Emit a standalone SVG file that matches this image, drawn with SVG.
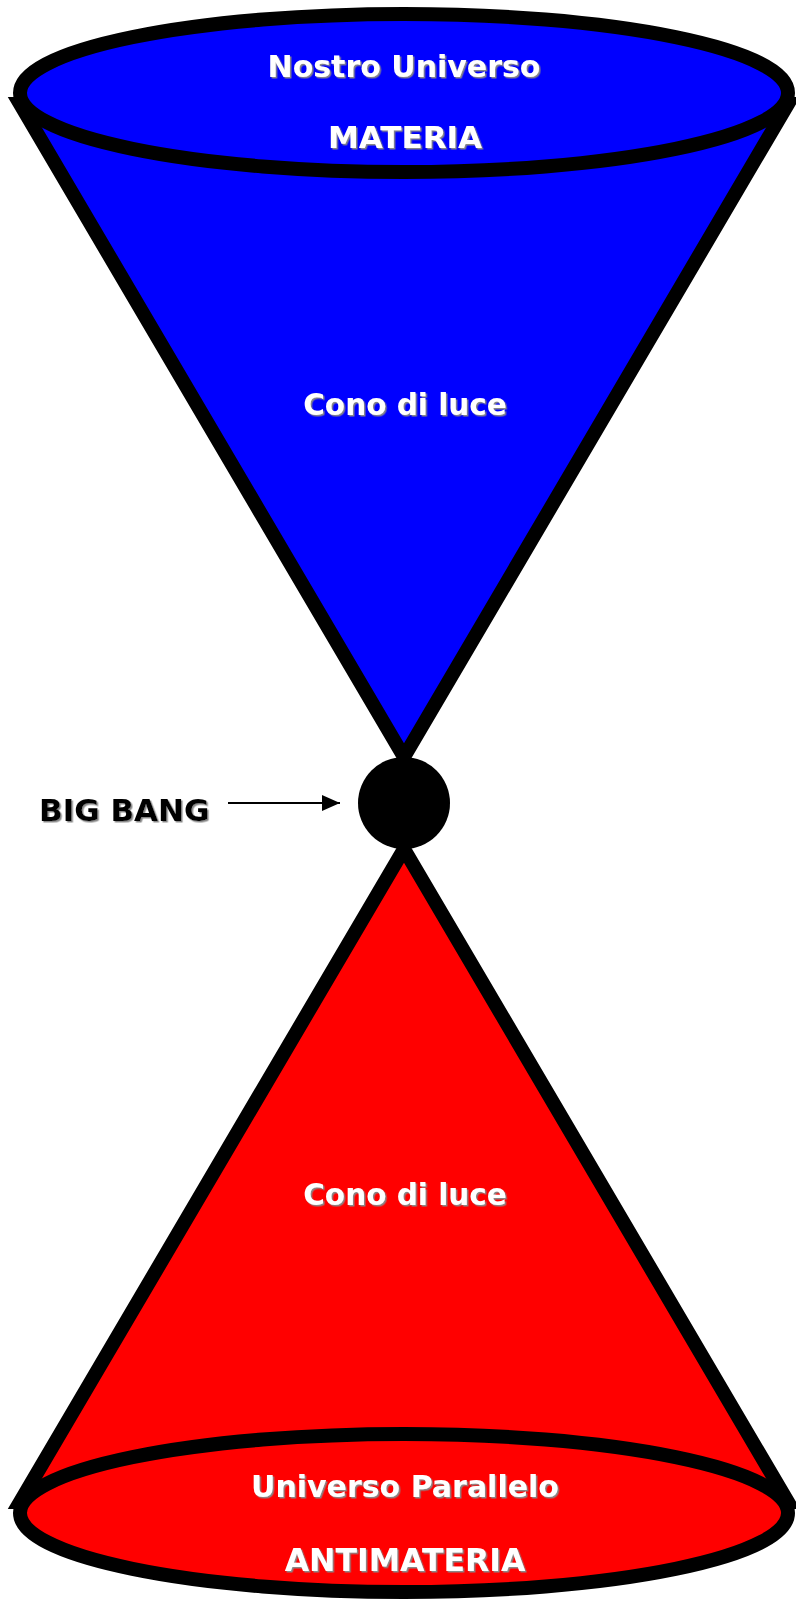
<svg xmlns="http://www.w3.org/2000/svg" width="796" height="1599" viewBox="0 0 796 1599">
<style>
.cone{stroke:#000;stroke-width:14;stroke-linejoin:miter;stroke-miterlimit:10}
.lbl{font-family:"DejaVu Sans","Verdana",sans-serif;font-weight:bold;fill:#fff;text-anchor:middle;filter:url(#sh)}
.bb{font-family:"DejaVu Sans","Verdana",sans-serif;font-weight:bold;fill:#000;filter:url(#sh)}
</style>
<defs>
<filter id="sh" x="-5%" y="-20%" width="110%" height="140%">
<feDropShadow dx="1.5" dy="1.5" stdDeviation="0.4" flood-color="#888" flood-opacity="1"/>
</filter>
<marker id="arr" viewBox="0 0 18 16" refX="18" refY="8" markerWidth="18" markerHeight="16" markerUnits="userSpaceOnUse" orient="auto">
<path d="M0,0 L18,8 L0,16 Z" fill="#000"/>
</marker>
</defs>
<g id="cone-top">
<polygon class="cone" fill="#0000ff" points="20,104 788,104 404,757"/>
<ellipse class="cone" fill="#0000ff" cx="404" cy="93" rx="384" ry="79"/>
<text class="lbl" x="404" y="77" font-size="30">Nostro Universo</text>
<text class="lbl" x="405" y="148" font-size="31">MATERIA</text>
<text class="lbl" x="405" y="415" font-size="29.5">Cono di luce</text>
</g>
<g id="cone-bottom">
<polygon class="cone" fill="#ff0000" points="20,1502 788,1502 404,849"/>
<ellipse class="cone" fill="#ff0000" cx="404" cy="1513" rx="384" ry="79"/>
<text class="lbl" x="405" y="1205" font-size="29.5">Cono di luce</text>
<text class="lbl" x="405" y="1497" font-size="30">Universo Parallelo</text>
<text class="lbl" x="405" y="1571" font-size="31.5">ANTIMATERIA</text>
</g>
<g id="big-bang">
<circle cx="404" cy="803" r="46" fill="#000"/>
</g>
<g id="big-bang-label">
<text class="bb" x="39" y="821" font-size="31">BIG BANG</text>
</g>
<g id="connectors">
<line x1="228" y1="803" x2="340" y2="803" stroke="#000" stroke-width="2" marker-end="url(#arr)"/>
</g>
</svg>
